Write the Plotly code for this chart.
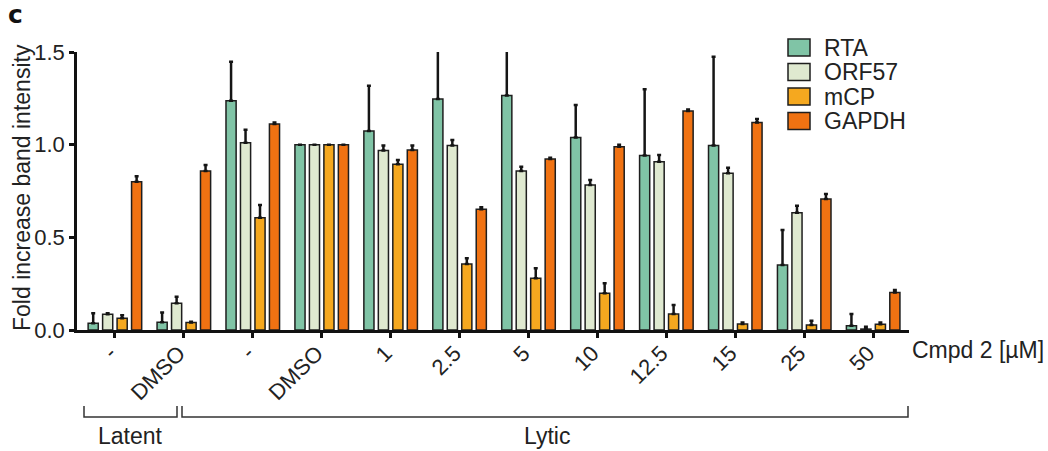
import plotly.graph_objects as go

categories = ["-", "DMSO", "-", "DMSO", "1", "2.5", "5", "10", "12.5", "15", "25", "50"]
series = ["RTA", "ORF57", "mCP", "GAPDH"]
colors = ["#80c4a6", "#dfe9d0", "#f5a81f", "#f07212"]

rta_vals = [0.036, 0.042, 1.237, 1.0, 1.074, 1.247, 1.265, 1.038, 0.941, 0.995, 0.351, 0.023]
rta_err = [0.054, 0.053, 0.211, None, 0.244, 0.26, 0.25, 0.176, 0.358, 0.48, 0.189, 0.063]
orf57_vals = [0.085, 0.144, 1.011, 1.0, 0.968, 0.995, 0.858, 0.782, 0.908, 0.846, 0.633, 0.005]
orf57_err = [0.006, 0.036, 0.069, None, 0.027, 0.03, 0.023, 0.028, 0.036, 0.03, 0.038, 0.012]
mcp_vals = [0.063, 0.040, 0.606, 1.0, 0.894, 0.356, 0.279, 0.198, 0.086, 0.032, 0.027, 0.031]
mcp_err = [0.017, 0.005, 0.069, None, 0.023, 0.031, 0.054, 0.054, 0.049, 0.008, 0.023, 0.009]
gapdh_vals = [0.800, 0.858, 1.112, 1.0, 0.971, 0.651, 0.923, 0.989, 1.182, 1.119, 0.707, 0.203]
gapdh_err = [0.03, 0.032, 0.008, None, 0.024, 0.011, 0.007, 0.011, 0.008, 0.02, 0.027, 0.013]

values = [rta_vals, orf57_vals, mcp_vals, gapdh_vals]
errors = [rta_err, orf57_err, mcp_err, gapdh_err]

group_labels = ["Latent", "Lytic"]
x_title = "Cmpd 2 [µM]"
y_title = "Fold increase band intensity"
panel_label = "c"

W, H = 1048, 451
L, R, T, B = 77, 909, 52, 330  # plot area in pixels

def px(xp):
    return (xp - L) / (R - L)

def py(yp):
    return (B - yp) / (B - T)

FONT = "Liberation Sans, Arial, sans-serif"
TXT = "#222"
pos = list(range(len(categories)))

fig = go.Figure()
for name, col, v, e in zip(series, colors, values, errors):
    fig.add_trace(go.Bar(
        x=pos, y=v, name=name,
        marker=dict(color=col, line=dict(color="#1e1e1e", width=1.5)),
        error_y=dict(type="data", array=e, arrayminus=[0] * len(e), symmetric=False,
                     color="#151515", thickness=2.5, width=2),
        showlegend=False,
    ))

shapes = []
annotations = []

# manual legend
row_y = [47.5, 72, 96.5, 121]
for name, col, yy in zip(series, colors, row_y):
    shapes.append(dict(type="rect", xref="paper", yref="paper",
                       x0=px(788), x1=px(810), y0=py(yy + 8.5), y1=py(yy - 8.5),
                       fillcolor=col, line=dict(color="#1e1e1e", width=1.5)))
    annotations.append(dict(text=name, xref="paper", yref="paper", x=px(822), y=py(yy),
                            xanchor="left", yanchor="middle", showarrow=False,
                            font=dict(size=23, color=TXT, family=FONT)))

# brackets
for (x0, x1) in [(84, 177), (182, 908)]:
    shapes.append(dict(type="path", xref="paper", yref="paper",
                       path=f"M {px(x0)} {py(406)} L {px(x0)} {py(417)} L {px(x1)} {py(417)} L {px(x1)} {py(406)}",
                       line=dict(color="#333", width=1.5)))

for txt, xx in zip(group_labels, [130, 547]):
    annotations.append(dict(text=txt, xref="paper", yref="paper", x=px(xx), y=py(436),
                            xanchor="center", yanchor="middle", showarrow=False,
                            font=dict(size=23, color=TXT, family=FONT)))

annotations.append(dict(text=x_title, xref="paper", yref="paper", x=px(910), y=py(350),
                        xanchor="left", yanchor="middle", showarrow=False,
                        font=dict(size=23, color=TXT, family=FONT)))
annotations.append(dict(text=y_title, xref="paper", yref="paper", x=px(22), y=py(188),
                        xanchor="center", yanchor="middle", textangle=-90, showarrow=False,
                        font=dict(size=23, color=TXT, family=FONT)))
annotations.append(dict(text="<b>" + panel_label + "</b>", xref="paper", yref="paper",
                        x=px(15), y=py(15), xanchor="center", yanchor="middle", showarrow=False,
                        font=dict(size=25, color="#111", family="DejaVu Sans, Arial")))

fig.update_layout(
    width=W, height=H,
    margin=dict(l=L, r=W - R, t=T, b=H - B, pad=0),
    paper_bgcolor="white", plot_bgcolor="white",
    barmode="group", bargap=0.16, bargroupgap=0.3,
    font=dict(family=FONT, color=TXT),
    shapes=shapes, annotations=annotations,
    xaxis=dict(
        range=[-0.55, 11.52], tickmode="array", tickvals=pos, ticktext=categories,
        tickangle=-45, tickfont=dict(size=22, family=FONT, color=TXT),
        ticklabelstandoff=-6, ticklabelshift=-5,
        showline=True, linecolor="#111", linewidth=2.5,
        ticks="outside", ticklen=5, tickwidth=2.5, tickcolor="#111",
        showgrid=False, zeroline=False, fixedrange=True,
    ),
    yaxis=dict(
        range=[0, 1.5], tickvals=[0, 0.5, 1.0, 1.5], ticktext=["0.0", "0.5", "1.0", "1.5"],
        tickfont=dict(size=22, family=FONT, color=TXT),
        showline=True, linecolor="#111", linewidth=2.5,
        ticks="outside", ticklen=5, tickwidth=2.5, tickcolor="#111",
        showgrid=False, zeroline=False, fixedrange=True,
    ),
)

fig.write_html("out.html", config={"displayModeBar": False},
               post_script="document.body.style.margin='0';document.body.style.overflow='hidden';")
